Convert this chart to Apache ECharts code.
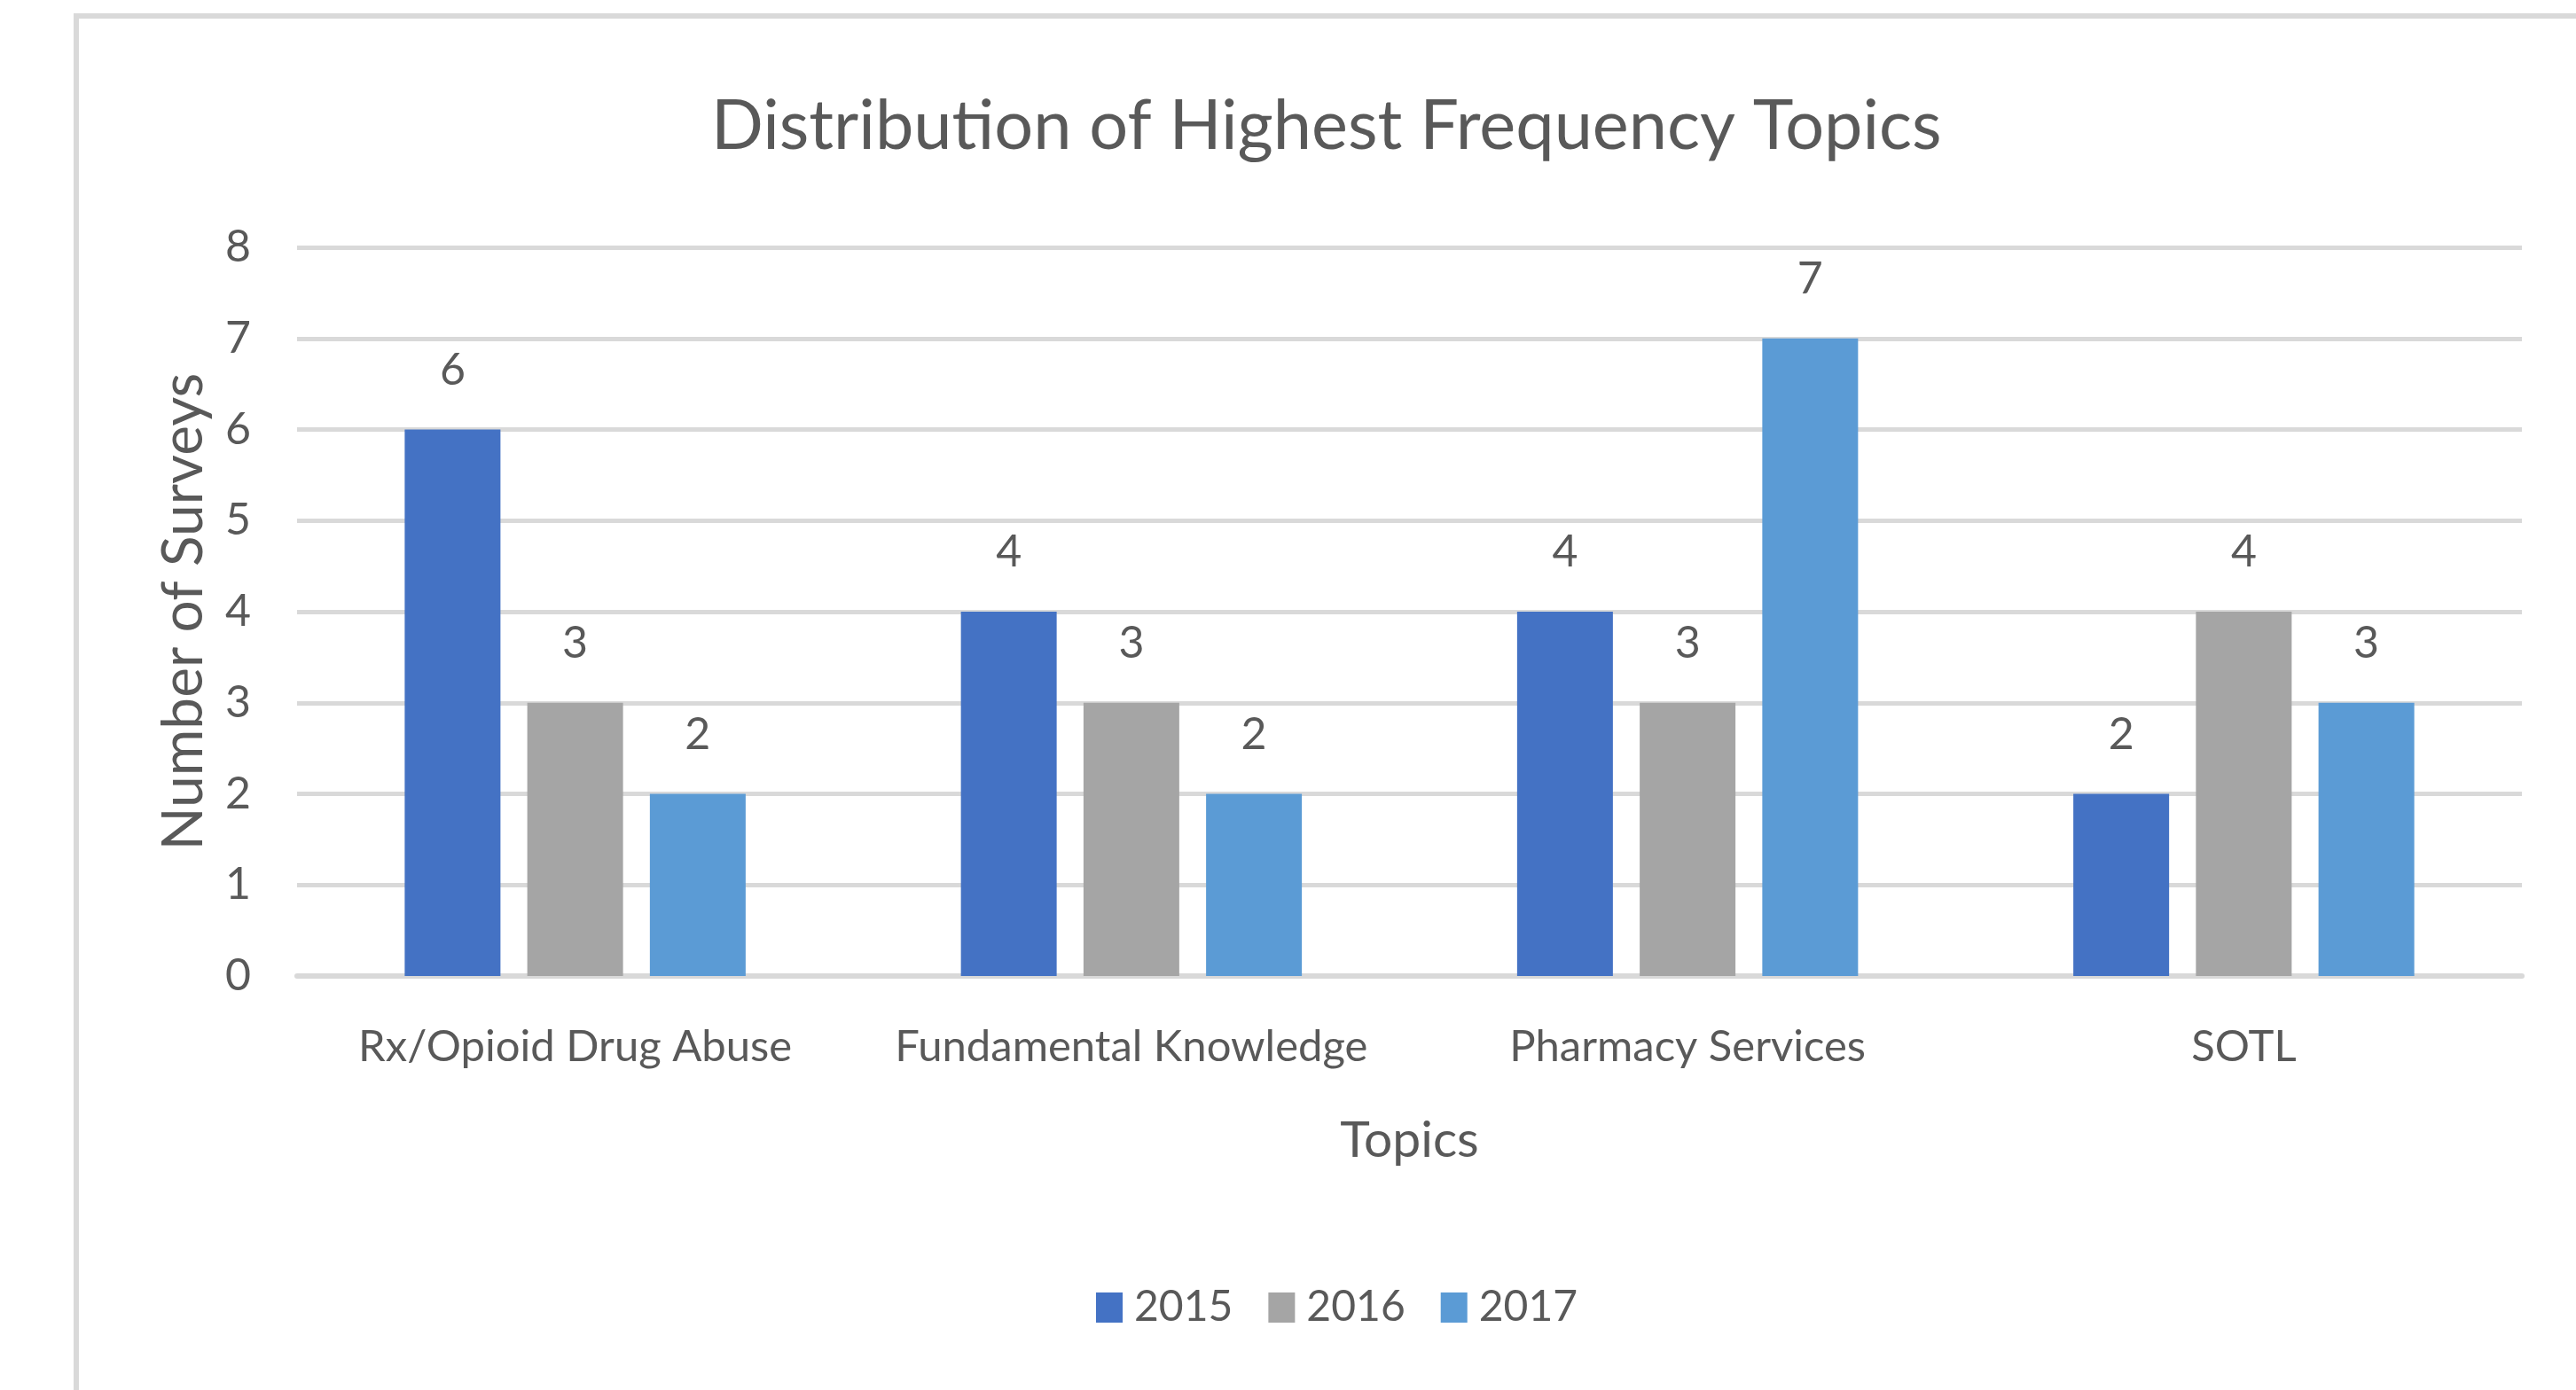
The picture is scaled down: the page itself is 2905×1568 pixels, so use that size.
<!DOCTYPE html>
<html>
<head>
<meta charset="utf-8">
<title>Distribution of Highest Frequency Topics</title>
<script src="https://cdn.jsdelivr.net/npm/echarts@6/dist/echarts.min.js"></script>
<style>
    html, body { margin: 0; padding: 0; background: #fff; }
    #chart { width: 2905px; height: 1568px; }
</style>
</head>
<body>
<div id="chart"></div>
<script>
// data
var topics = ["Rx/Opioid Drug Abuse", "Fundamental Knowledge", "Pharmacy Services", "SOTL"];
var years = ["2015", "2016", "2017"];
var surveys2015 = [6, 4, 4, 2];
var surveys2016 = [3, 3, 3, 4];
var surveys2017 = [2, 2, 7, 3];
var yearColors = ["#4472c4", "#a5a5a5", "#5b9bd5"];

var textColor = "#595959";
var fontName = "Lato";

function makeSeries(name, values, color) {
    return {
        name: name,
        type: 'bar',
        barWidth: 108,
        barGap: '28%',
        itemStyle: { color: color },
        label: {
            show: true,
            position: 'top',
            distance: 42,
            color: textColor,
            fontFamily: fontName,
            fontSize: 50
        },
        data: values
    };
}

var chart = echarts.init(document.getElementById('chart'));

var option = {
    backgroundColor: '#fff',
    animation: false,
    title: {
        text: 'Distribution of Highest Frequency Topics',
        left: 797,
        top: 99,
        textStyle: {
            color: textColor,
            fontFamily: fontName,
            fontWeight: 'normal',
            fontSize: 77.5
        }
    },
    // chart area border (only left/top edges fall inside the picture)
    graphic: [{
        type: 'rect',
        shape: { x: 86, y: 18, width: 3200, height: 2000 },
        style: { fill: 'none', stroke: '#d9d9d9', lineWidth: 6 },
        silent: true
    }],
    legend: {
        data: years,
        left: 1231,
        top: 1446,
        itemWidth: 30,
        itemHeight: 34,
        itemGap: 40,
        icon: 'rect',
        textStyle: {
            color: textColor,
            fontFamily: fontName,
            fontSize: 48,
            padding: [0, 0, 0, 8]
        }
    },
    grid: {
        left: 335,
        right: 61,
        top: 279,
        bottom: 467,
        containLabel: false
    },
    xAxis: {
        type: 'category',
        data: topics,
        name: 'Topics',
        nameLocation: 'middle',
        nameGap: 157,
        nameTextStyle: {
            color: textColor,
            fontFamily: fontName,
            fontSize: 57
        },
        axisLine: { lineStyle: { color: '#d9d9d9', width: 6 } },
        axisTick: { show: false },
        axisLabel: {
            color: textColor,
            fontFamily: fontName,
            fontSize: 49,
            margin: 56,
            interval: 0
        }
    },
    yAxis: {
        type: 'value',
        min: 0,
        max: 8,
        interval: 1,
        name: 'Number of Surveys',
        nameLocation: 'middle',
        nameGap: 96,
        nameTextStyle: {
            color: textColor,
            fontFamily: fontName,
            fontSize: 64
        },
        axisLine: { show: false },
        axisTick: { show: false },
        axisLabel: {
            color: textColor,
            fontFamily: fontName,
            fontSize: 50,
            margin: 52
        },
        splitLine: { lineStyle: { color: '#d9d9d9', width: 5 } }
    },
    series: [
        makeSeries(years[0], surveys2015, yearColors[0]),
        makeSeries(years[1], surveys2016, yearColors[1]),
        makeSeries(years[2], surveys2017, yearColors[2])
    ]
};

chart.setOption(option);
</script>
</body>
</html>
